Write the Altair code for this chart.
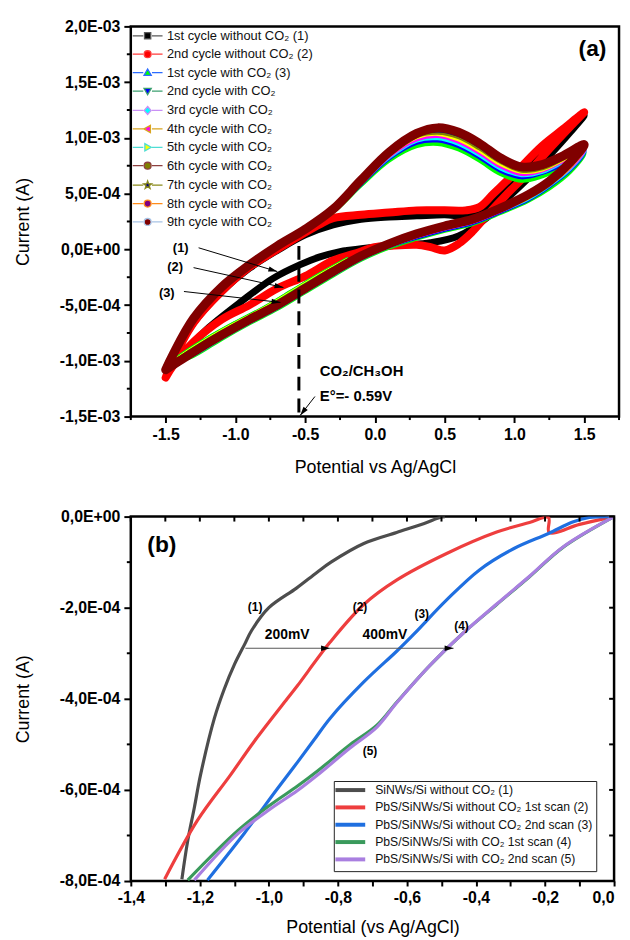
import math
import json
import altair as alt
import pandas as pd

FONT = "Liberation Sans"

# ======================= Panel (a): cyclic voltammograms =======================
series_a = [
    "1st cycle without CO₂ (1)",
    "2nd cycle without CO₂ (2)",
    "1st cycle with CO₂ (3)",
    "2nd cycle with CO₂",
    "3rd cycle with CO₂",
    "4th cycle with CO₂",
    "5th cycle with CO₂",
    "6th cycle with CO₂",
    "7th cycle with CO₂",
    "8th cycle with CO₂",
    "9th cycle with CO₂",
]
marker_colors_a = ["#000000", "#FF0000", "#00FF00", "#0000FF", "#00FFFF", "#FF00FF",
                   "#FFFF00", "#808000", "#000080", "#800080", "#800000"]
line_colors_a = ["#5A5A5A", "#FF3B3B", "#2B6BFF", "#3CA070", "#C990F5", "#D9A520",
                 "#4DDDD5", "#8E4040", "#8A8A1A", "#FF8C1A", "#A8C4E6"]
# legend glyphs: connecting line (with a gap) + marker shape, in symbol units
LINE = "M-4.3,0L-1.25,0M1.25,0L4.3,0"
marker_paths_a = [
    "M-0.9,-0.9H0.9V0.9H-0.9Z",
    "M-1,0A1,1 0 1,0 1,0A1,1 0 1,0 -1,0Z",
    "M0,-1.05L1.05,0.8L-1.05,0.8Z",
    "M0,1.05L1.05,-0.8L-1.05,-0.8Z",
    "M0,-1.15L1,0L0,1.15L-1,0Z",
    "M-1.05,0L0.8,-1.05L0.8,1.05Z",
    "M1.05,0L-0.8,-1.05L-0.8,1.05Z",
    "M-1,0A1,1 0 1,0 1,0A1,1 0 1,0 -1,0Z",
    "M0,-1.2L0.28,-0.39L1.14,-0.37L0.46,0.15L0.71,0.97L0,0.48L-0.71,0.97L-0.46,0.15L-1.14,-0.37L-0.28,-0.39Z",
    "M-1,0A1,1 0 1,0 1,0A1,1 0 1,0 -1,0Z",
    "M-1,0A1,1 0 1,0 1,0A1,1 0 1,0 -1,0Z",
]
shapes_a = [LINE + p for p in marker_paths_a]

# potentials (V) and currents (mA = 1E-03 A)
V_c1 = [-0.2, -0.25, -0.4, -0.54, -0.73, -0.96, -1.19, -1.36, -1.47, -1.5,
        -1.45, -1.3, -1.1, -0.9, -0.7, -0.5, -0.3, -0.1, 0.1, 0.3, 0.5, 0.65, 0.75, 0.85, 1.0, 1.2, 1.35, 1.5,
        1.4, 1.25, 1.1, 0.95, 0.8, 0.6, 0.4, 0.2, 0.0, -0.2]
I_c1 = [-0.01, -0.02, -0.07, -0.14, -0.26, -0.47, -0.70, -0.91, -1.03, -1.07,
        -0.97, -0.66, -0.38, -0.17, -0.01, 0.13, 0.22, 0.27, 0.29, 0.30, 0.31, 0.30, 0.33, 0.42, 0.60, 0.86, 1.03, 1.20,
        1.05, 0.84, 0.64, 0.46, 0.28, 0.12, 0.06, 0.04, 0.02, -0.01]

V_c2 = [-1.5, -1.45, -1.3, -1.1, -0.9, -0.7, -0.5, -0.4, -0.3, -0.1, 0.1, 0.3, 0.5, 0.65, 0.75, 0.85, 1.0, 1.2, 1.35, 1.5,
        1.4, 1.25, 1.1, 0.95, 0.8, 0.7, 0.6, 0.5, 0.4, 0.3, 0.1, 0.0, -0.15, -0.3, -0.5, -0.7, -0.9, -1.1, -1.3, -1.45, -1.5]
I_c2 = [-1.15, -1.0, -0.66, -0.38, -0.16, 0.0, 0.15, 0.22, 0.28, 0.31, 0.33, 0.35, 0.35, 0.35, 0.38, 0.50, 0.68, 0.93, 1.08, 1.23,
        1.10, 0.90, 0.69, 0.50, 0.30, 0.16, 0.05, -0.01, 0.02, 0.04, 0.03, 0.02, -0.04, -0.10, -0.24, -0.35, -0.50, -0.63, -0.83, -1.05, -1.15]

V_start = [-0.2, -0.4, -0.6, -0.8, -1.0, -1.2, -1.41, -1.5]
I_c3_start = [-0.08, -0.22, -0.37, -0.52, -0.65, -0.79, -0.96, -1.05]
I_c4_start = [-0.09, -0.23, -0.38, -0.53, -0.66, -0.80, -0.97, -1.06]
I_c7_start = [-0.08, -0.22, -0.37, -0.52, -0.65, -0.79, -0.96, -1.06]

V_co2 = [-1.5, -1.45, -1.3, -1.1, -0.9, -0.7, -0.5, -0.3, -0.1, 0.1, 0.3, 0.45, 0.6, 0.75, 0.9, 1.05, 1.2, 1.35, 1.5,
         1.4, 1.25, 1.1, 0.9, 0.7, 0.5, 0.3, 0.1, -0.1, -0.3, -0.5, -0.7, -0.9, -1.1, -1.3, -1.45, -1.5]
I_c3 = [-1.05, -0.93, -0.61, -0.34, -0.15, 0.02, 0.17, 0.34, 0.58, 0.80, 0.93, 0.95, 0.90, 0.80, 0.68, 0.62, 0.66, 0.74, 0.86,
        0.70, 0.55, 0.44, 0.33, 0.23, 0.17, 0.10, 0.02, -0.09, -0.23, -0.38, -0.53, -0.66, -0.80, -0.95, -1.02, -1.05]
I_c4 = [-1.06, -0.93, -0.61, -0.34, -0.15, 0.02, 0.17, 0.35, 0.59, 0.82, 0.96, 0.98, 0.93, 0.83, 0.71, 0.65, 0.69, 0.77, 0.88,
        0.72, 0.57, 0.45, 0.34, 0.24, 0.18, 0.11, 0.03, -0.08, -0.22, -0.37, -0.52, -0.65, -0.79, -0.94, -1.03, -1.06]
I_c5 = [-1.06, -0.94, -0.62, -0.34, -0.14, 0.02, 0.18, 0.35, 0.60, 0.83, 0.98, 1.00, 0.95, 0.85, 0.73, 0.67, 0.70, 0.79, 0.89,
        0.73, 0.58, 0.46, 0.35, 0.25, 0.19, 0.12, 0.03, -0.08, -0.22, -0.37, -0.52, -0.65, -0.79, -0.94, -1.03, -1.06]
I_c6 = [-1.07, -0.94, -0.62, -0.34, -0.14, 0.03, 0.18, 0.35, 0.60, 0.84, 0.99, 1.02, 0.97, 0.87, 0.75, 0.68, 0.71, 0.80, 0.90,
        0.74, 0.59, 0.47, 0.35, 0.25, 0.19, 0.12, 0.04, -0.07, -0.21, -0.36, -0.51, -0.64, -0.78, -0.93, -1.03, -1.07]
I_c7 = [-1.07, -0.94, -0.62, -0.34, -0.14, 0.03, 0.18, 0.36, 0.61, 0.85, 1.01, 1.04, 0.99, 0.89, 0.77, 0.70, 0.72, 0.81, 0.91,
        0.75, 0.59, 0.47, 0.36, 0.26, 0.20, 0.13, 0.04, -0.07, -0.21, -0.36, -0.51, -0.64, -0.78, -0.93, -1.03, -1.07]
I_c8 = [-1.07, -0.95, -0.62, -0.34, -0.14, 0.03, 0.18, 0.36, 0.61, 0.86, 1.02, 1.05, 1.01, 0.91, 0.79, 0.71, 0.73, 0.82, 0.92,
        0.76, 0.60, 0.48, 0.36, 0.26, 0.20, 0.13, 0.05, -0.07, -0.21, -0.35, -0.50, -0.64, -0.77, -0.93, -1.04, -1.07]
I_c9 = [-1.08, -0.95, -0.62, -0.34, -0.14, 0.03, 0.18, 0.36, 0.62, 0.86, 1.03, 1.07, 1.03, 0.93, 0.80, 0.73, 0.75, 0.83, 0.93,
        0.77, 0.60, 0.48, 0.37, 0.27, 0.21, 0.14, 0.05, -0.06, -0.20, -0.35, -0.50, -0.63, -0.77, -0.92, -1.04, -1.08]
I_c10 = [-1.08, -0.95, -0.62, -0.34, -0.14, 0.03, 0.18, 0.36, 0.62, 0.87, 1.04, 1.08, 1.04, 0.94, 0.81, 0.74, 0.76, 0.84, 0.94,
         0.78, 0.61, 0.49, 0.37, 0.27, 0.21, 0.14, 0.05, -0.06, -0.20, -0.35, -0.50, -0.63, -0.77, -0.92, -1.04, -1.08]
I_c11 = [-1.08, -0.95, -0.62, -0.34, -0.14, 0.03, 0.18, 0.36, 0.62, 0.87, 1.04, 1.09, 1.05, 0.95, 0.82, 0.74, 0.76, 0.84, 0.94,
         0.78, 0.61, 0.49, 0.37, 0.27, 0.21, 0.14, 0.05, -0.06, -0.20, -0.35, -0.50, -0.63, -0.77, -0.92, -1.04, -1.08]

x_major_a = [-1.5, -1.0, -0.5, 0.0, 0.5, 1.0, 1.5]
x_minor_a = [-1.75, -1.25, -0.75, -0.25, 0.25, 0.75, 1.25, 1.75]
x_labels_a = ["-1.5", "-1.0", "-0.5", "0.0", "0.5", "1.0", "1.5"]
y_major_a = [-1.5, -1.0, -0.5, 0.0, 0.5, 1.0, 1.5, 2.0]
y_minor_a = [-1.25, -0.75, -0.25, 0.25, 0.75, 1.25, 1.75]
y_labels_a = ["-1,5E-03", "-1,0E-03", "-5,0E-04", "0,0E+00", "5,0E-04", "1,0E-03", "1,5E-03", "2,0E-03"]

# annotations (a)
ann_a_text = ["(1)", "(2)", "(3)"]
ann_a_V = [-1.35, -1.39, -1.45]
ann_a_I = [0.015, -0.155, -0.39]
arr_a_V0 = [-1.264, -1.30, -1.369, -0.43]
arr_a_I0 = [0.014, -0.164, -0.378, -1.32]
arr_a_V1 = [-0.70, -0.656, -0.677, -0.536]
arr_a_I1 = [-0.199, -0.342, -0.476, -1.49]
ref_V = -0.545
ref_I = [0.03, -1.5]
note_a_text = ["CO₂/CH₃OH", "E°=- 0.59V"]
note_a_V = [-0.395, -0.395]
note_a_I = [-1.09, -1.32]
tag_a = ("(a)", 1.56, 1.795)

# ======================= Panel (b): linear sweeps =======================
series_b = ["SiNWs/Si without CO₂ (1)",
            "PbS/SiNWs/Si without CO₂ 1st scan (2)",
            "PbS/SiNWs/Si without CO₂ 2nd scan (3)",
            "PbS/SiNWs/Si with CO₂ 1st scan (4)",
            "PbS/SiNWs/Si with CO₂ 2nd scan (5)"]
colors_b = ["#4D4D4D", "#EE3E3E", "#1F6FE0", "#3A9A5C", "#A97FE0"]
# current in 1E-04 A
V_b1 = [-0.49, -0.505, -0.55, -0.63, -0.725, -0.82, -0.86, -0.92, -1.0, -1.05, -1.07, -1.10, -1.13, -1.158,
        -1.198, -1.216, -1.235, -1.252]
I_b1 = [0.0, -0.02, -0.15, -0.35, -0.59, -1.0, -1.22, -1.57, -2.0, -2.50, -2.80, -3.25, -3.80, -4.43,
        -5.67, -6.39, -7.11, -7.96]
V_b2 = [0.0, -0.1, -0.188, -0.19, -0.245, -0.34, -0.485, -0.629, -0.725, -0.823, -0.918, -0.947, -1.042,
        -1.111, -1.207, -1.302]
I_b2 = [0.0, -0.17, -0.35, -0.02, -0.13, -0.34, -0.81, -1.39, -1.93, -2.76, -3.72, -4.0, -4.93,
        -5.67, -6.67, -7.96]
V_b3 = [0.0, -0.072, -0.12, -0.19, -0.29, -0.39, -0.485, -0.58, -0.629, -0.725, -0.823, -0.869, -0.918,
        -0.976, -1.071, -1.178]
I_b3 = [0.0, -0.02, -0.12, -0.37, -0.70, -1.17, -1.83, -2.58, -2.95, -3.63, -4.43, -4.90, -5.40,
        -5.98, -6.95, -7.98]
V_b4 = [0.0, -0.147, -0.245, -0.34, -0.436, -0.534, -0.629, -0.687, -0.765, -0.86, -0.918, -0.996, -1.091, -1.235]
I_b4 = [0.0, -0.67, -1.32, -1.93, -2.55, -3.27, -4.07, -4.58, -5.01, -5.59, -5.92, -6.33, -6.90, -7.98]
V_b5 = [0.0, -0.147, -0.245, -0.34, -0.436, -0.534, -0.629, -0.687, -0.765, -0.86, -0.918, -0.996, -1.091, -1.216]
I_b5 = [0.0, -0.66, -1.31, -1.92, -2.55, -3.27, -4.08, -4.62, -5.08, -5.68, -6.02, -6.42, -6.97, -7.98]

x_ticks_b = [-1.4, -1.3, -1.2, -1.1, -1.0, -0.9, -0.8, -0.7, -0.6, -0.5, -0.4, -0.3, -0.2, -0.1, 0.0]
x_labels_b = ["-1,4", "-1,2", "-1,0", "-0,8", "-0,6", "-0,4", "-0,2", "0,0"]
y_major_b = [-8, -6, -4, -2, 0]
y_minor_b = [-7, -5, -3, -1]
y_right_b = [-8, -7, -6, -5, -4, -3, -2, -1, 0]
y_labels_b = ["-8,0E-04", "-6,0E-04", "-4,0E-04", "-2,0E-04", "0,0E+00"]

ann_b_text = ["(1)", "(2)", "(3)", "(4)", "(5)"]
ann_b_V = [-1.04, -0.736, -0.557, -0.442, -0.707]
ann_b_I = [-1.98, -1.98, -2.13, -2.41, -5.15]
mv_text = ["200mV", "400mV"]
mv_V = [-0.947, -0.664]
mv_I = [-2.59, -2.61]
arr_b_I = -2.89
arr_b_V = [-1.068, -0.823, -0.465]
tag_b = ("(b)", -1.31, -0.63)

# ======================= layout constants =======================
W_A, H_A = 493, 394
W_B, H_B = 488, 368
XD_A, YD_A = [-1.75, 1.75], [-1.5, 2.0]
XD_B, YD_B = [-1.4, 0.0], [-8.0, 0.0]
HEAD = "M0,-1L0.6,1L-0.6,1Z"
HEAD_SIZE = 81  # 9 px long


def heads(V0, I0, V1, I1, sx, sy, back=4.5):
    rows = []
    for v0, i0, v1, i1 in zip(V0, I0, V1, I1):
        dx = (v1 - v0) * sx
        dy = -(i1 - i0) * sy
        L = math.hypot(dx, dy)
        ang = math.degrees(math.atan2(dx, -dy)) % 360
        rows.append(dict(V=v1 - dx / L * back / sx, I=i1 + dy / L * back / sy, ang=ang))
    return pd.DataFrame(rows)


def axis_common():
    return dict(labelFont=FONT, labelFontWeight="bold", labelFontSize=16, labelColor="black",
                titleFont=FONT, titleFontWeight="normal", titleFontSize=18, titleColor="black",
                tickColor="black", tickWidth=2, domain=False, grid=False,
                labelOverlap=False, labelFlush=False)


def minor_ticks(vals, sc, channel, a, b):
    d = pd.DataFrame({"t": vals})
    if channel == "y":
        enc = dict(y=alt.Y("t:Q", scale=sc, axis=None), x=alt.value(a), x2=alt.value(b))
    else:
        enc = dict(x=alt.X("t:Q", scale=sc, axis=None), y=alt.value(a), y2=alt.value(b))
    return alt.Chart(d).mark_rule(color="black", strokeWidth=2).encode(**enc)


# ---------------- panel (a) ----------------
sc_xa = alt.Scale(domain=XD_A, nice=False, zero=False)
sc_ya = alt.Scale(domain=YD_A, nice=False, zero=False)
xa_axis = alt.Axis(values=x_major_a, title="Potential vs Ag/AgCl", labelPadding=4, titlePadding=16,
                   labelExpr=f"{json.dumps(x_labels_a)}[round(datum.value*2)+3]", tickSize=6,
                   **axis_common())
ya_axis = alt.Axis(values=y_major_a, title="Current (A)", labelPadding=4, titlePadding=27,
                   labelExpr=f"{json.dumps(y_labels_a)}[round(datum.value*2)+3]", tickSize=7,
                   **axis_common())
xa = alt.X("V:Q", scale=sc_xa, axis=xa_axis)
ya = alt.Y("I:Q", scale=sc_ya, axis=ya_axis)
xa0 = alt.X("V:Q", scale=sc_xa, axis=None)
ya0 = alt.Y("I:Q", scale=sc_ya, axis=None)

color_a = alt.Color("series:N", scale=alt.Scale(domain=series_a, range=marker_colors_a), legend=None)

segs_a = [
    (series_a[0], V_c1, I_c1, 7),
    (series_a[1], V_c2, I_c2, 8),
    (series_a[3], V_start, I_c4_start, 4),
    (series_a[2], V_start, I_c3_start, 2.5),
    (series_a[6], V_start, I_c7_start, 1),
    (series_a[2], V_co2, I_c3, 5),
    (series_a[3], V_co2, I_c4, 5),
    (series_a[4], V_co2, I_c5, 5),
    (series_a[5], V_co2, I_c6, 5),
    (series_a[6], V_co2, I_c7, 5),
    (series_a[7], V_co2, I_c8, 5),
    (series_a[8], V_co2, I_c9, 5),
    (series_a[9], V_co2, I_c10, 5),
    (series_a[10], V_co2, I_c11, 9),
]

layers_a = []
leg_pts = pd.DataFrame({"series": series_a, "V": [V_co2[0]] * len(series_a), "I": [I_c11[0]] * len(series_a)})
leg_a = alt.Legend(orient="none", legendX=0, legendY=3, title=None, padding=0, rowPadding=4.6,
                   symbolSize=49, symbolOffset=10.5, labelOffset=13, labelFont=FONT, labelFontSize=13,
                   labelColor="#111111", labelLimit=400, symbolOpacity=1, symbolStrokeWidth=1.3)
# invisible layer that only carries the legend: line colour (stroke) + marker colour (fill) + glyph
layers_a.append(
    alt.Chart(leg_pts).mark_point(opacity=0, filled=True).encode(
        x=xa0, y=ya0,
        fill=alt.Fill("series:N", scale=alt.Scale(domain=series_a, range=marker_colors_a), legend=leg_a),
        stroke=alt.Stroke("series:N", scale=alt.Scale(domain=series_a, range=line_colors_a), legend=leg_a),
        shape=alt.Shape("series:N", scale=alt.Scale(domain=series_a, range=shapes_a), legend=leg_a),
    )
)

for k, (name, V, I, w) in enumerate(segs_a):
    d = pd.DataFrame({"series": name, "V": V, "I": I, "k": list(range(len(V)))})
    layers_a.append(
        alt.Chart(d).mark_line(strokeWidth=w, strokeJoin="round", strokeCap="round",
                               interpolate="catmull-rom").encode(
            x=xa0, y=ya0, color=color_a, order=alt.Order("k:Q")
        )
    )

layers_a.append(
    alt.Chart(pd.DataFrame({"V": [ref_V], "I": [ref_I[0]], "I2": [ref_I[1]]})).mark_rule(
        strokeWidth=3, strokeDash=[14, 8], color="black").encode(x=xa0, y=ya0, y2="I2:Q")
)
arr_a = pd.DataFrame({"V": arr_a_V0, "I": arr_a_I0, "V2": arr_a_V1, "I2": arr_a_I1})
layers_a.append(alt.Chart(arr_a).mark_rule(strokeWidth=1, color="black").encode(x=xa0, y=ya0, x2="V2:Q", y2="I2:Q"))
sxa, sya = W_A / (XD_A[1] - XD_A[0]), H_A / (YD_A[1] - YD_A[0])
layers_a.append(
    alt.Chart(heads(arr_a_V0, arr_a_I0, arr_a_V1, arr_a_I1, sxa, sya)).mark_point(
        shape=HEAD, size=HEAD_SIZE, filled=True, color="black", opacity=1).encode(
        x=xa0, y=ya0, angle=alt.Angle("ang:Q", scale=None))
)
layers_a.append(
    alt.Chart(pd.DataFrame({"V": ann_a_V, "I": ann_a_I, "t": ann_a_text})).mark_text(
        font=FONT, fontWeight="bold", fontSize=13, align="right", baseline="middle", color="black", dx=2).encode(
        x=xa0, y=ya0, text="t:N")
)
layers_a.append(
    alt.Chart(pd.DataFrame({"V": note_a_V, "I": note_a_I, "t": note_a_text})).mark_text(
        font=FONT, fontWeight="bold", fontSize=15, align="left", baseline="middle", color="black").encode(
        x=xa0, y=ya0, text="t:N")
)
layers_a.append(
    alt.Chart(pd.DataFrame({"V": [tag_a[1]], "I": [tag_a[2]], "t": [tag_a[0]]})).mark_text(
        font=FONT, fontWeight="bold", fontSize=23, align="center", baseline="middle", color="black").encode(
        x=xa0, y=ya0, text="t:N")
)
layers_a.append(minor_ticks(y_minor_a, sc_ya, "y", 0, -4))
layers_a.append(minor_ticks(x_minor_a, sc_xa, "x", H_A, H_A + 3.5))
carrier_a = pd.DataFrame({"V": [0.0], "I": [0.0]})
layers_a.append(alt.Chart(carrier_a).mark_point(opacity=0).encode(x=xa, y=ya))

panel_a = alt.layer(*layers_a).resolve_axis(x="independent", y="independent").properties(width=W_A, height=H_A)

# ---------------- panel (b) ----------------
sc_xb = alt.Scale(domain=XD_B, nice=False, zero=False)
sc_yb = alt.Scale(domain=YD_B, nice=False, zero=False)
MAJ_XB = "abs(datum.value*5 - round(datum.value*5)) < 0.01"
xb_axis = alt.Axis(values=x_ticks_b, title="Potential (vs Ag/AgCl)", labelPadding=4, titlePadding=13,
                   labelExpr=f"{MAJ_XB} ? {json.dumps(x_labels_b)}[round(datum.value*5)+7] : ''",
                   labelAlign={"condition": {"test": "datum.value > -0.05", "value": "right"}, "value": "center"},
                   tickSize=5, **axis_common())
yb_axis = alt.Axis(values=y_major_b, title="Current (A)", labelPadding=4, titlePadding=27,
                   labelExpr=f"{json.dumps(y_labels_b)}[round(datum.value/2)+4]", tickSize=7,
                   **axis_common())
xb = alt.X("V:Q", scale=sc_xb, axis=xb_axis)
yb = alt.Y("I:Q", scale=sc_yb, axis=yb_axis)
xb0 = alt.X("V:Q", scale=sc_xb, axis=None)
yb0 = alt.Y("I:Q", scale=sc_yb, axis=None)

leg_b = alt.Legend(orient="none", legendX=205, legendY=267, title=None, padding=3, rowPadding=0.5,
                   symbolType="M-4.3,0L4.3,0", symbolSize=49, symbolStrokeWidth=4, symbolOffset=7.5,
                   labelOffset=19, labelFont=FONT, labelFontSize=12.3, labelColor="#111111", labelLimit=400,
                   strokeColor="#222222", fillColor="white", symbolOpacity=1)
color_b = alt.Color("series:N", scale=alt.Scale(domain=series_b, range=colors_b), legend=leg_b)

layers_b = []
for name, V, I in zip(series_b, [V_b1, V_b2, V_b3, V_b4, V_b5], [I_b1, I_b2, I_b3, I_b4, I_b5]):
    d = pd.DataFrame({"series": name, "V": V, "I": I, "k": list(range(len(V)))})
    layers_b.append(
        alt.Chart(d).mark_line(strokeWidth=3.2, strokeJoin="round", clip=True,
                               interpolate="catmull-rom").encode(
            x=xb0, y=yb0, color=color_b, order=alt.Order("k:Q"))
    )
arr_b = pd.DataFrame({"V": arr_b_V[:2], "I": [arr_b_I] * 2, "V2": arr_b_V[1:], "I2": [arr_b_I] * 2})
layers_b.append(alt.Chart(arr_b).mark_rule(strokeWidth=1, color="#555555").encode(x=xb0, y=yb0, x2="V2:Q", y2="I2:Q"))
sxb, syb = W_B / (XD_B[1] - XD_B[0]), H_B / (YD_B[1] - YD_B[0])
layers_b.append(
    alt.Chart(heads(arr_b_V[:2], [arr_b_I] * 2, arr_b_V[1:], [arr_b_I] * 2, sxb, syb)).mark_point(
        shape=HEAD, size=HEAD_SIZE, filled=True, color="black", opacity=1).encode(
        x=xb0, y=yb0, angle=alt.Angle("ang:Q", scale=None))
)
layers_b.append(
    alt.Chart(pd.DataFrame({"V": ann_b_V, "I": ann_b_I, "t": ann_b_text})).mark_text(
        font=FONT, fontWeight="bold", fontSize=12, align="center", baseline="middle", color="black").encode(
        x=xb0, y=yb0, text="t:N")
)
layers_b.append(
    alt.Chart(pd.DataFrame({"V": mv_V, "I": mv_I, "t": mv_text})).mark_text(
        font=FONT, fontWeight="bold", fontSize=14, align="center", baseline="middle", color="black").encode(
        x=xb0, y=yb0, text="t:N")
)
layers_b.append(
    alt.Chart(pd.DataFrame({"V": [tag_b[1]], "I": [tag_b[2]], "t": [tag_b[0]]})).mark_text(
        font=FONT, fontWeight="bold", fontSize=23, align="center", baseline="middle", color="black").encode(
        x=xb0, y=yb0, text="t:N")
)
layers_b.append(minor_ticks(y_minor_b, sc_yb, "y", 0, -4))
layers_b.append(minor_ticks(x_ticks_b, sc_xb, "x", 0, 5))          # inward ticks, top frame
layers_b.append(minor_ticks(y_right_b, sc_yb, "y", W_B, W_B - 5))  # inward ticks, right frame
carrier_b = pd.DataFrame({"V": [V_b1[0]], "I": [I_b1[0]]})
layers_b.append(alt.Chart(carrier_b).mark_point(opacity=0).encode(x=xb, y=yb))

panel_b = alt.layer(*layers_b).resolve_axis(x="independent", y="independent").properties(width=W_B, height=H_B)

chart = alt.vconcat(panel_a, panel_b, spacing=29).resolve_scale(
    x="independent", y="independent", color="independent", stroke="independent",
    fill="independent", shape="independent").resolve_legend(
    color="independent", stroke="independent", fill="independent", shape="independent"
).properties(padding={"left": 5, "right": 0, "top": 4, "bottom": 0}).configure(font=FONT).configure_view(
    stroke="black", strokeWidth=2.5)

chart.save("out.html", embed_options={"renderer": "svg", "actions": False})
